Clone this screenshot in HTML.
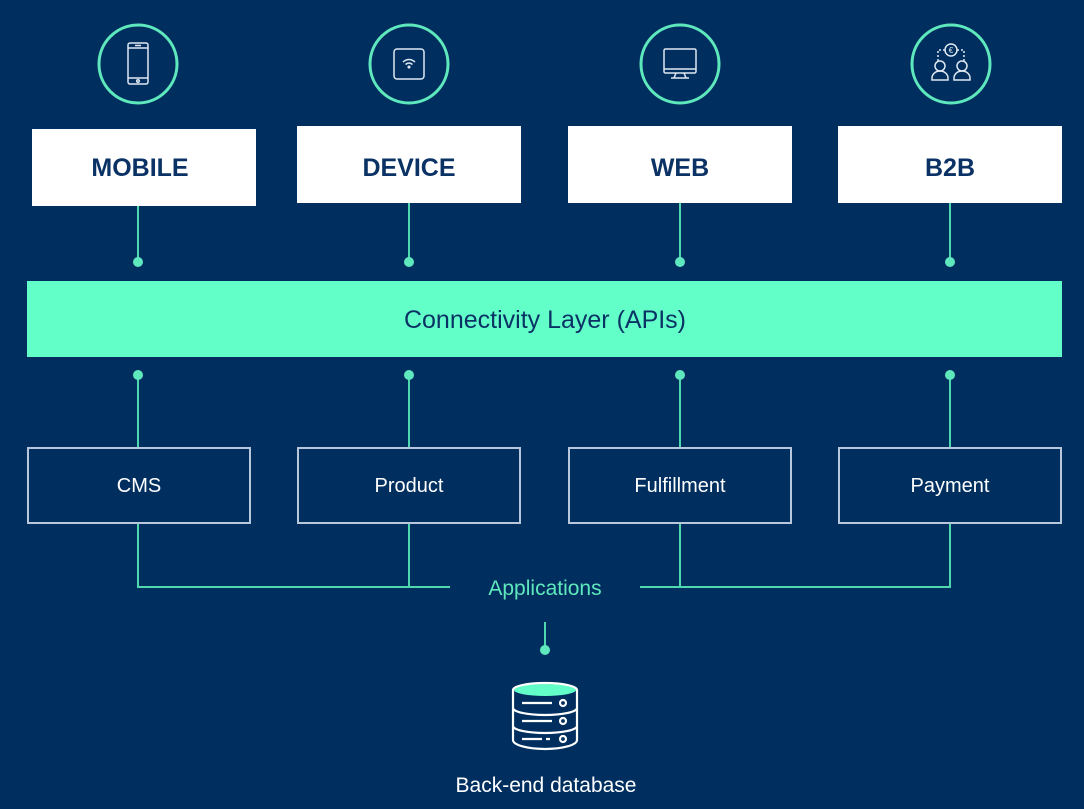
<!DOCTYPE html>
<html><head><meta charset="utf-8"><style>
html,body{margin:0;padding:0;background:#002f5f;}
svg{display:block;font-family:"Liberation Sans",sans-serif;}
</style></head><body>
<svg width="1084" height="809" viewBox="0 0 1084 809" xmlns="http://www.w3.org/2000/svg">
<rect width="1084" height="809" fill="#002f5f"/>
<g fill="none" stroke="#5fe8bd" stroke-width="3">
<circle cx="138" cy="64" r="39"/><circle cx="409" cy="64" r="39"/><circle cx="680" cy="64" r="39"/><circle cx="951" cy="64" r="39"/>
</g>
<g fill="none" stroke="#dfe8f2" stroke-width="1.5">
<rect x="128" y="43" width="20" height="41" rx="2"/><line x1="128" y1="48" x2="148" y2="48"/><line x1="128" y1="78" x2="148" y2="78"/><circle cx="138" cy="81" r="1.3"/><line x1="135" y1="45.5" x2="141" y2="45.5"/>
<path d="M394 52 a3 3 0 0 1 3 -3 h24 a3 3 0 0 1 3 3 v24 a3 3 0 0 1 -3 3 h-24 a3 3 0 0 1 -3 -3 z"/>
<path d="M403 62 q6 -5 12 0 M405.5 64.5 q3.5 -3 7 0"/><circle cx="409" cy="67" r="0.8"/>
<rect x="664" y="49" width="32" height="24" rx="1.5"/><line x1="664" y1="69" x2="696" y2="69"/><path d="M676 73 l-2 5 h12 l-2 -5 M671 78 h18"/>
<circle cx="951" cy="50" r="6"/><path d="M945 50 h-7 v11 M957 50 h7 v11" stroke-dasharray="2 2"/>
<circle cx="940" cy="66" r="5"/><path d="M932 80 v-2 a8 7 0 0 1 16 0 v2 z"/>
<circle cx="962" cy="66" r="5"/><path d="M954 80 v-2 a8 7 0 0 1 16 0 v2 z"/>
</g>
<text x="951" y="53" font-size="8" fill="#dfe8f2" text-anchor="middle">€</text>
<g fill="#ffffff">
<rect x="32" y="129" width="224" height="77"/><rect x="297" y="126" width="224" height="77"/><rect x="568" y="126" width="224" height="77"/><rect x="838" y="126" width="224" height="77"/>
</g>
<g font-size="25" font-weight="bold" fill="#0b3264" text-anchor="middle">
<text x="140" y="176">MOBILE</text><text x="409" y="176">DEVICE</text><text x="680" y="176">WEB</text><text x="950" y="176">B2B</text>
</g>
<g stroke="#4fd8b0" stroke-width="2" fill="none">
<line x1="138" y1="206" x2="138" y2="262"/><line x1="409" y1="203" x2="409" y2="262"/><line x1="680" y1="203" x2="680" y2="262"/><line x1="950" y1="203" x2="950" y2="262"/>
<line x1="138" y1="375" x2="138" y2="448"/><line x1="409" y1="375" x2="409" y2="448"/><line x1="680" y1="375" x2="680" y2="448"/><line x1="950" y1="375" x2="950" y2="448"/>
<path d="M138 523 V587 H450 M409 523 V587"/><path d="M680 523 V587 M950 523 V587 H640"/>
<line x1="545" y1="622" x2="545" y2="650"/>
</g>
<g fill="#5fe8bd">
<circle cx="138" cy="262" r="5"/><circle cx="409" cy="262" r="5"/><circle cx="680" cy="262" r="5"/><circle cx="950" cy="262" r="5"/>
<circle cx="138" cy="375" r="5"/><circle cx="409" cy="375" r="5"/><circle cx="680" cy="375" r="5"/><circle cx="950" cy="375" r="5"/>
<circle cx="545" cy="650" r="5"/>
</g>
<rect x="27" y="281" width="1035" height="76" fill="#62ffc8"/>
<text x="545" y="328" font-size="25" fill="#0b3264" text-anchor="middle">Connectivity Layer (APIs)</text>
<g fill="none" stroke="#b8c8dc" stroke-width="2">
<rect x="28" y="448" width="222" height="75"/><rect x="298" y="448" width="222" height="75"/><rect x="569" y="448" width="222" height="75"/><rect x="839" y="448" width="222" height="75"/>
</g>
<g font-size="20" fill="#ffffff" text-anchor="middle">
<text x="139" y="492">CMS</text><text x="409" y="492">Product</text><text x="680" y="492">Fulfillment</text><text x="950" y="492">Payment</text>
</g>
<text x="545" y="595" font-size="21" fill="#5fe8bd" text-anchor="middle">Applications</text>
<ellipse cx="545" cy="690" rx="31" ry="6" fill="#62ffc8"/>
<g fill="none" stroke="#ffffff" stroke-width="2.2">
<path d="M513 690 a32 7 0 0 1 64 0 v50 a32 9 0 0 1 -64 0 z"/>
<path d="M513 708 a32 7 0 0 0 64 0 M513 726 a32 7 0 0 0 64 0"/>
<path d="M522 703 h30 M522 721 h30 M522 739 h20 M546 739 h4"/>
<circle cx="563" cy="703" r="3"/><circle cx="563" cy="721" r="3"/><circle cx="563" cy="739" r="3"/>
</g>
<text x="546" y="792" font-size="21" fill="#ffffff" text-anchor="middle">Back-end database</text>
</svg>
</body></html>
